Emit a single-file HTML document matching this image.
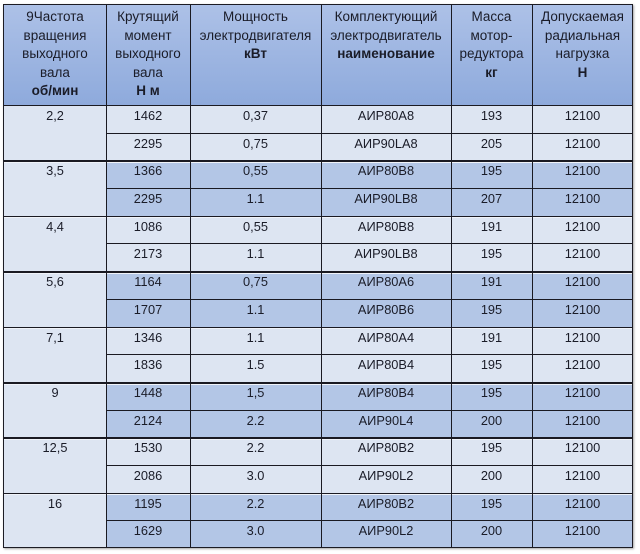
<!DOCTYPE html>
<html><head><meta charset="utf-8">
<style>
html,body{margin:0;padding:0;background:#fff;}
body{width:640px;height:554px;position:relative;overflow:hidden;font-family:"Liberation Sans","Noto Sans CJK SC",sans-serif;color:#1a1c28;}
.hdr{position:absolute;left:4px;top:5px;width:629px;height:100px;background:linear-gradient(#adc1e7,#8eaadc);}
.bodybg{position:absolute;left:4px;top:105px;width:629px;height:443px;background:#dde5f2;}
.dk{position:absolute;left:106px;width:527px;background:#b3c6e6;}
.v{position:absolute;top:5px;height:543px;width:1px;background:#1a1a22;}
.hl{position:absolute;left:106px;width:527px;height:1px;background:#1a1a22;}
.gl{position:absolute;left:4px;width:629px;height:1.5px;background:#1a1a22;}
.gw{position:absolute;left:4px;width:629px;height:1px;background:#f0f3f9;}
.outer{position:absolute;left:3px;top:4px;width:628px;height:542px;border:1.5px solid #1c1c24;box-shadow:1px 1px 2px rgba(0,0,0,0.35);}
.h{position:absolute;top:8px;text-align:center;font-size:13.5px;line-height:18.6px;}
.h b{font-weight:bold;}
.row{position:absolute;left:0;width:640px;height:28px;font-size:12.8px;}
.row span{position:absolute;top:3px;text-align:center;line-height:16px;}
.c1{left:4px;width:102px}.c2{left:106px;width:84px}.c3{left:190px;width:131px}.c4{left:321px;width:130px}.c5{left:451px;width:81px}.c6{left:532px;width:101px}
</style></head><body>
<div class="hdr"></div>
<div class="bodybg"></div>
<div class="dk" style="top:160px;height:56px"></div>
<div class="dk" style="top:271px;height:56px"></div>
<div class="dk" style="top:382px;height:55px"></div>
<div class="dk" style="top:493px;height:55px"></div>

<div class="hl" style="top:133px"></div>
<div class="hl" style="top:188px"></div>
<div class="hl" style="top:243px"></div>
<div class="hl" style="top:299px"></div>
<div class="hl" style="top:354px"></div>
<div class="hl" style="top:410px"></div>
<div class="hl" style="top:465px"></div>
<div class="hl" style="top:520px"></div>

<div class="gl" style="top:104.5px"></div>
<div class="gl" style="top:160px"></div><div class="gw" style="top:161.5px"></div>
<div class="gl" style="top:215.5px"></div><div class="gw" style="top:217px"></div>
<div class="gl" style="top:271px"></div><div class="gw" style="top:272.5px"></div>
<div class="gl" style="top:326.5px"></div><div class="gw" style="top:328px"></div>
<div class="gl" style="top:382px"></div><div class="gw" style="top:383.5px"></div>
<div class="gl" style="top:437px"></div><div class="gw" style="top:438.5px"></div>
<div class="gl" style="top:492.5px"></div><div class="gw" style="top:494px"></div>

<div class="v" style="left:106px"></div>
<div class="v" style="left:190px"></div>
<div class="v" style="left:320.5px"></div>
<div class="v" style="left:451px"></div>
<div class="v" style="left:532px"></div>
<div class="outer"></div>

<div class="h c1">9Частота<br>вращения<br>выходного<br>вала<br><b>об/мин</b></div>
<div class="h c2">Крутящий<br>момент<br>выходного<br>вала<br><b>Н м</b></div>
<div class="h c3">Мощность<br>электродвигателя<br><b>кВт</b></div>
<div class="h c4">Комплектующий<br>электродвигатель<br><b>наименование</b></div>
<div class="h c5">Масса<br>мотор-<br>редуктора<br><b>кг</b></div>
<div class="h c6">Допускаемая<br>радиальная<br>нагрузка<br><b>Н</b></div>

<div class="row" style="top:105px"><span class="c1">2,2</span><span class="c2">1462</span><span class="c3">0,37</span><span class="c4">АИР80А8</span><span class="c5">193</span><span class="c6">12100</span></div>
<div class="row" style="top:133px"><span class="c2">2295</span><span class="c3">0,75</span><span class="c4">АИР90LA8</span><span class="c5">205</span><span class="c6">12100</span></div>
<div class="row" style="top:160px"><span class="c1">3,5</span><span class="c2">1366</span><span class="c3">0,55</span><span class="c4">АИР80В8</span><span class="c5">195</span><span class="c6">12100</span></div>
<div class="row" style="top:188px"><span class="c2">2295</span><span class="c3">1.1</span><span class="c4">АИР90LB8</span><span class="c5">207</span><span class="c6">12100</span></div>
<div class="row" style="top:216px"><span class="c1">4,4</span><span class="c2">1086</span><span class="c3">0,55</span><span class="c4">АИР80В8</span><span class="c5">191</span><span class="c6">12100</span></div>
<div class="row" style="top:243px"><span class="c2">2173</span><span class="c3">1.1</span><span class="c4">АИР90LB8</span><span class="c5">195</span><span class="c6">12100</span></div>
<div class="row" style="top:271px"><span class="c1">5,6</span><span class="c2">1164</span><span class="c3">0,75</span><span class="c4">АИР80А6</span><span class="c5">191</span><span class="c6">12100</span></div>
<div class="row" style="top:299px"><span class="c2">1707</span><span class="c3">1.1</span><span class="c4">АИР80В6</span><span class="c5">195</span><span class="c6">12100</span></div>
<div class="row" style="top:327px"><span class="c1">7,1</span><span class="c2">1346</span><span class="c3">1.1</span><span class="c4">АИР80А4</span><span class="c5">191</span><span class="c6">12100</span></div>
<div class="row" style="top:354px"><span class="c2">1836</span><span class="c3">1.5</span><span class="c4">АИР80В4</span><span class="c5">195</span><span class="c6">12100</span></div>
<div class="row" style="top:382px"><span class="c1">9</span><span class="c2">1448</span><span class="c3">1,5</span><span class="c4">АИР80В4</span><span class="c5">195</span><span class="c6">12100</span></div>
<div class="row" style="top:410px"><span class="c2">2124</span><span class="c3">2.2</span><span class="c4">АИР90L4</span><span class="c5">200</span><span class="c6">12100</span></div>
<div class="row" style="top:437px"><span class="c1">12,5</span><span class="c2">1530</span><span class="c3">2.2</span><span class="c4">АИР80В2</span><span class="c5">195</span><span class="c6">12100</span></div>
<div class="row" style="top:465px"><span class="c2">2086</span><span class="c3">3.0</span><span class="c4">АИР90L2</span><span class="c5">200</span><span class="c6">12100</span></div>
<div class="row" style="top:493px"><span class="c1">16</span><span class="c2">1195</span><span class="c3">2.2</span><span class="c4">АИР80В2</span><span class="c5">195</span><span class="c6">12100</span></div>
<div class="row" style="top:520px"><span class="c2">1629</span><span class="c3">3.0</span><span class="c4">АИР90L2</span><span class="c5">200</span><span class="c6">12100</span></div>
</body></html>
